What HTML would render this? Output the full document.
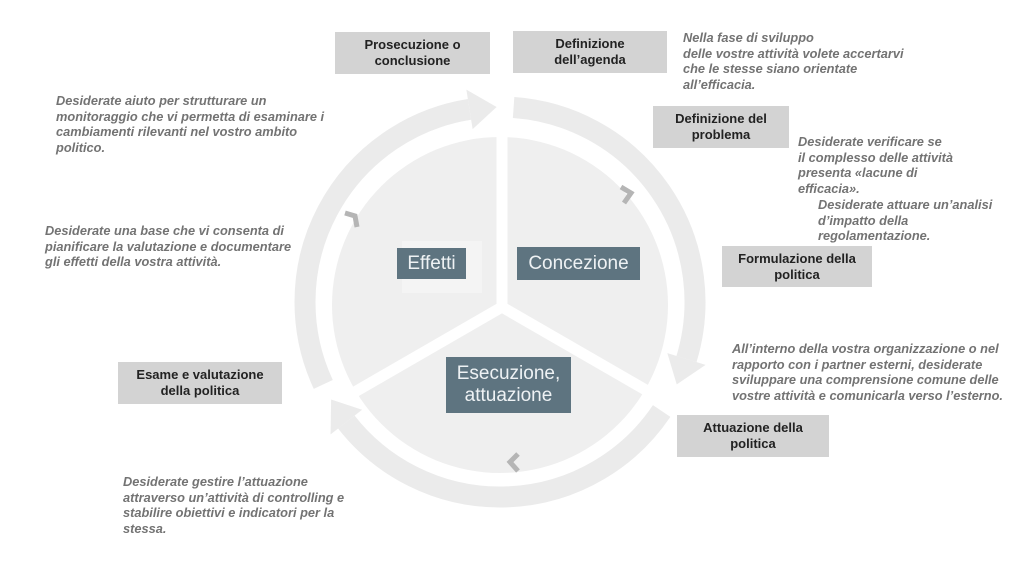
<!DOCTYPE html>
<html><head><meta charset="utf-8">
<style>
html,body{margin:0;padding:0;background:#fff;}
body{width:1024px;height:578px;overflow:hidden;position:relative;font-family:"Liberation Sans",Arial,sans-serif;}
svg{position:absolute;left:0;top:0;}
.box{position:absolute;background:#d3d3d3;color:#222;font-weight:bold;font-size:13px;line-height:16px;text-align:center;display:flex;align-items:center;justify-content:center;}
.dk{position:absolute;background:#5e7480;color:#eef2f4;font-size:19px;line-height:22px;text-align:center;display:flex;align-items:center;justify-content:center;}
.t{position:absolute;color:#737373;font-style:italic;font-weight:bold;font-size:12.8px;line-height:15.5px;white-space:nowrap;}
</style></head><body>
<svg id="s" width="1024" height="578" viewBox="0 0 1024 578"></svg>

<div class="box" style="left:335px;top:32px;width:155px;height:42px;">Prosecuzione o<br>conclusione</div>
<div class="box" style="left:513px;top:31px;width:154px;height:42px;">Definizione<br>dell’agenda</div>
<div class="box" style="left:653px;top:106px;width:136px;height:42px;">Definizione del<br>problema</div>
<div class="box" style="left:722px;top:246px;width:150px;height:41px;">Formulazione della<br>politica</div>
<div class="box" style="left:677px;top:415px;width:152px;height:42px;">Attuazione della<br>politica</div>
<div class="box" style="left:118px;top:362px;width:164px;height:42px;">Esame e valutazione<br>della politica</div>

<div style="position:absolute;left:402px;top:241px;width:80px;height:52px;background:#f4f4f4;"></div>
<div class="dk" style="left:397px;top:248px;width:69px;height:31px;">Effetti</div>
<div class="dk" style="left:517px;top:247px;width:123px;height:33px;">Concezione</div>
<div class="dk" style="left:446px;top:357px;width:125px;height:56px;">Esecuzione,<br>attuazione</div>

<div class="t" style="left:683px;top:30px;">Nella fase di sviluppo<br>delle vostre attività volete accertarvi<br>che le stesse siano orientate<br>all’efficacia.</div>
<div class="t" style="left:798px;top:134px;">Desiderate verificare se<br>il complesso delle attività<br>presenta «lacune di<br>efficacia».</div>
<div class="t" style="left:818px;top:197px;">Desiderate attuare un’analisi<br>d’impatto della<br>regolamentazione.</div>
<div class="t" style="left:732px;top:341px;">All’interno della vostra organizzazione o nel<br>rapporto con i partner esterni, desiderate<br>sviluppare una comprensione comune delle<br>vostre attività e comunicarla verso l’esterno.</div>
<div class="t" style="left:123px;top:474px;">Desiderate gestire l’attuazione<br>attraverso un’attività di controlling e<br>stabilire obiettivi e indicatori per la<br>stessa.</div>
<div class="t" style="left:56px;top:93px;">Desiderate aiuto per strutturare un<br>monitoraggio che vi permetta di esaminare i<br>cambiamenti rilevanti nel vostro ambito<br>politico.</div>
<div class="t" style="left:45px;top:223px;">Desiderate una base che vi consenta di<br>pianificare la valutazione e documentare<br>gli effetti della vostra attività.</div>

<script>
(function(){
var s=document.getElementById('s');
var cx=500,cy=302,r=195,w=21,h=20;
function P(a,rr){var t=a*Math.PI/180;return [cx+rr*Math.cos(t),cy+rr*Math.sin(t)];}
var out='<circle cx="500" cy="305" r="168" fill="#efefef"/>';
var c=[502,307];
[-90,30,150].forEach(function(a){var t=a*Math.PI/180;
out+='<line x1="'+c[0]+'" y1="'+c[1]+'" x2="'+(c[0]+190*Math.cos(t))+'" y2="'+(c[1]+190*Math.sin(t))+'" stroke="#fff" stroke-width="11"/>';});
[[155,261,269],[-86,17,25],[34,142,150]].forEach(function(g){
var a=P(g[0],r),b=P(g[1],r);
out+='<path d="M'+a[0]+' '+a[1]+' A'+r+' '+r+' 0 0 1 '+b[0]+' '+b[1]+'" fill="none" stroke="#ebebeb" stroke-width="'+w+'"/>';
var o=P(g[1],r+h),i=P(g[1],r-h),tp=P(g[2],r);
out+='<polygon points="'+o.join(',')+' '+tp.join(',')+' '+i.join(',')+'" fill="#ebebeb"/>';
});
out+='<polyline points="621,187 631,193 624,203" fill="none" stroke="#b5b5b5" stroke-width="5"/>';
out+='<polyline points="345,213 355,216 357,227" fill="none" stroke="#b5b5b5" stroke-width="5"/>';
out+='<polyline points="518,454 510,462 518,471" fill="none" stroke="#b5b5b5" stroke-width="5"/>';
s.innerHTML=out;
})();
</script>
</body></html>
